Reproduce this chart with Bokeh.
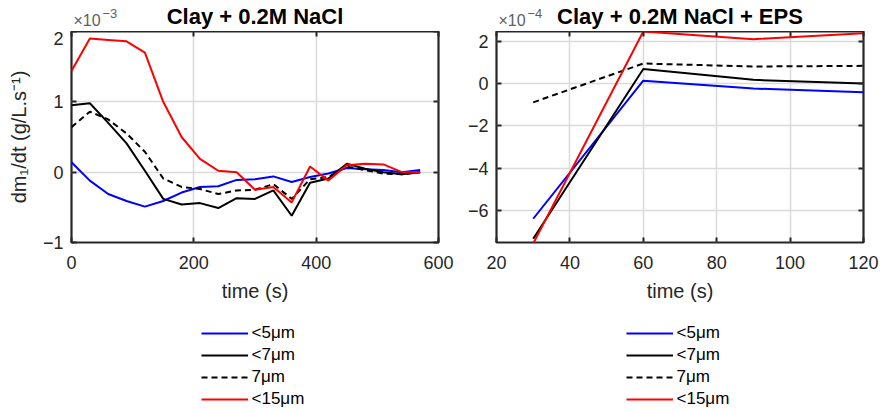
import numpy as np
from bokeh.plotting import figure
from bokeh.layouts import row, column
from bokeh.models import (Legend, LegendItem, LinearAxis, FixedTicker, Range1d,
                          CustomJSTickFormatter)
from bokeh.core.properties import value
from bokeh.embed import file_html
from bokeh.resources import INLINE

# ---- data (values in units of the axis multiplier) ----
t1 = [0, 30, 60, 90, 120, 150, 180, 210, 240, 270, 300, 330, 360, 390, 420, 450, 480, 510, 540, 570]
blue1 = [0.14, -0.12, -0.31, -0.41, -0.49, -0.41, -0.29, -0.21, -0.20, -0.11, -0.10, -0.06, -0.14, -0.07, -0.02, 0.06, 0.04, 0.03, 0.00, 0.03]
black1 = [0.95, 0.98, 0.70, 0.41, 0.02, -0.38, -0.46, -0.44, -0.51, -0.37, -0.38, -0.26, -0.62, -0.15, -0.09, 0.12, 0.05, 0.00, -0.03, 0.00]
dash1 = [0.64, 0.86, 0.75, 0.55, 0.29, -0.09, -0.21, -0.24, -0.31, -0.26, -0.25, -0.17, -0.38, -0.10, -0.07, 0.08, 0.03, -0.02, -0.03, 0.00]
red1 = [1.44, 1.90, 1.88, 1.86, 1.70, 1.00, 0.50, 0.19, 0.02, 0.00, -0.25, -0.21, -0.43, 0.08, -0.12, 0.10, 0.12, 0.11, 0.00, 0.00]

t2 = [30, 60, 90, 120]
blue2 = [-6.38, 0.13, -0.24, -0.42]
black2 = [-7.32, 0.68, 0.17, 0.00]
dash2 = [-0.89, 0.94, 0.80, 0.83]
red2 = [-7.55, 2.45, 2.09, 2.37]

labels = ["<5\u03bcm", "<7\u03bcm", "7\u03bcm", "<15\u03bcm"]
titles = ["Clay + 0.2M NaCl", "Clay + 0.2M NaCl + EPS"]
exp_base = "\u00d710"
exp_powers = ["\u22123", "\u22124"]
xticks1 = [0, 200, 400, 600]
yticks1 = [-1, 0, 1, 2]
xticks2 = [20, 40, 60, 80, 100, 120]
yticks2 = [-6, -4, -2, 0, 2]

FONT = "Liberation Sans"
AX = "#262626"
COLORS = ["#0000ff", "black", "black", "#ff0000"]
DASHES = ["solid", "solid", "6 4", "solid"]
HEAD, TOP, FH, FW, BOT = 31, 0, 211, 367, 74
TOTAL_H = 411
LEG_H = TOTAL_H - (HEAD + TOP + FH + BOT)


def strip(left_border, height):
    w = left_border + FW + 22
    f = figure(width=w, height=height, title=None, output_backend="svg",
               toolbar_location=None, x_range=Range1d(0, w), y_range=Range1d(0, height),
               min_border_left=0, min_border_right=0, min_border_top=0,
               min_border_bottom=0, min_border=0, outline_line_color=None,
               frame_align=False)
    f.axis.visible = False
    f.grid.visible = False
    return f


def panel(t, series, title, power, xr, yr, xt, yt, left_border, ylabel=None):
    # header strip: title and axis multiplier (strip coordinates are pixels from bottom)
    h = strip(left_border, HEAD)
    h.text(x=[left_border + FW / 2], y=[HEAD - 16], text=[title], text_font=value(FONT),
           text_font_size="22px", text_font_style="bold", text_color="black",
           text_align="center", text_baseline="middle")
    h.text(x=[left_border + 2], y=[HEAD - 19.5], text=[exp_base], text_font=value(FONT),
           text_font_size="16px", text_color="#5f5f5f", text_align="left",
           text_baseline="middle")
    h.text(x=[left_border + 31], y=[HEAD - 12.5], text=[power], text_font=value(FONT),
           text_font_size="13px", text_color="#5f5f5f", text_align="left",
           text_baseline="middle")

    p = figure(frame_width=FW, frame_height=FH, output_backend="svg", toolbar_location=None,
               x_range=Range1d(*xr), y_range=Range1d(*yr),
               min_border_left=left_border, min_border_right=22, min_border_top=TOP,
               min_border_bottom=BOT, background_fill_color="white")
    p.outline_line_color = AX
    p.outline_line_width = 2.2
    p.outline_line_alpha = 1

    for ax in p.xaxis + p.yaxis:
        ax.axis_line_color = None
        ax.major_tick_in = 5
        ax.major_tick_out = 0
        ax.minor_tick_line_color = None
        ax.major_tick_line_color = AX
        ax.major_tick_line_width = 2
        ax.major_label_text_font = FONT
        ax.major_label_text_font_size = "18px"
        ax.major_label_text_color = AX
        ax.axis_label_text_font = FONT
        ax.axis_label_text_font_size = "20px"
        ax.axis_label_text_font_style = "normal"
        ax.axis_label_text_color = AX
    p.xaxis.ticker = FixedTicker(ticks=xt)
    p.yaxis.ticker = FixedTicker(ticks=yt)
    p.xaxis.axis_label = "time (s)"
    p.xaxis.axis_label_standoff = 8
    p.xaxis.major_label_standoff = 13
    p.yaxis.major_label_standoff = 8
    if ylabel:
        p.yaxis.axis_label = ylabel
        p.yaxis.axis_label_standoff = 10

    for side, tk in (("above", xt), ("right", yt)):
        a = LinearAxis(ticker=FixedTicker(ticks=tk), axis_line_color=None,
                       major_tick_in=5, major_tick_out=0, minor_tick_line_color=None,
                       major_tick_line_color=AX, major_tick_line_width=2,
                       formatter=CustomJSTickFormatter(code="return ''"),
                       major_label_text_font_size="2px", major_label_standoff=0)
        p.add_layout(a, side)

    p.xgrid.ticker = FixedTicker(ticks=xt)
    p.ygrid.ticker = FixedTicker(ticks=yt)
    p.grid.grid_line_color = "#dadada"
    p.grid.grid_line_width = 1.5

    for s, c, d in zip(series, COLORS, DASHES):
        p.line(t, s, line_color=c, line_width=2, line_dash=d)

    # legend strip below the panel
    lf = strip(left_border, LEG_H)
    items = []
    for s, c, d, lab in zip(series, COLORS, DASHES, labels):
        # renderer kept off-range: only its legend glyph is visible
        r = lf.line([-20, -10], [-10, -10], line_color=c, line_width=2, line_dash=d)
        items.append(LegendItem(label=lab, renderers=[r]))
    lg = Legend(items=items, location=(left_border + FW / 2 - 54, 2), orientation="vertical",
                border_line_color=None, background_fill_alpha=0,
                label_text_font=FONT, label_text_font_size="17px", label_text_color="black",
                glyph_width=47, glyph_height=20, label_height=20, spacing=2,
                label_standoff=4, padding=2, margin=0)
    lf.add_layout(lg, "center")
    return column(h, p, lf, spacing=0)


p1 = panel(t1, [blue1, black1, dash1, red1], titles[0], exp_powers[0], (0, 600), (-1, 2),
           xticks1, yticks1, 71, ylabel="dm\u2081/dt (g/L.s\u207b\u00b9)")
p2 = panel(t2, [blue2, black2, dash2, red2], titles[1], exp_powers[1], (20, 120), (-7.5, 2.45),
           xticks2, yticks2, 36)

layout = row(p1, p2, spacing=0)
open("out.html", "w").write(file_html(layout, INLINE))
